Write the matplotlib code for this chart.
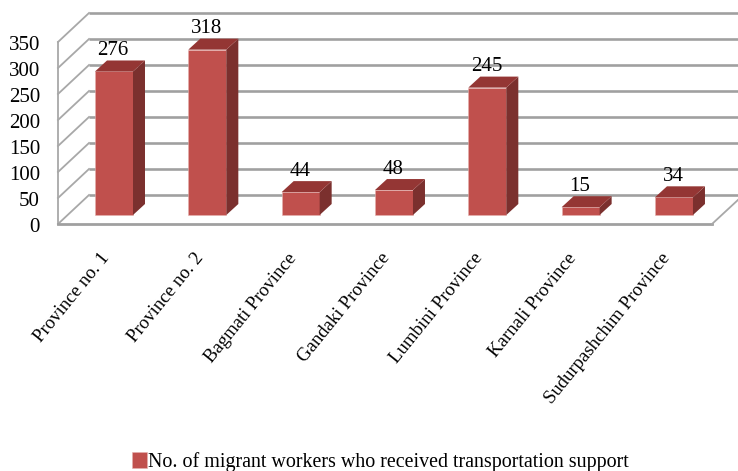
import matplotlib
matplotlib.use('Agg')
import matplotlib.pyplot as plt
from matplotlib.patches import Polygon
import numpy as np

plt.rcParams['font.family'] = ['Liberation Serif', 'DejaVu Serif']

provinces = ['Province no. 1', 'Province no. 2', 'Bagmati Province', 'Gandaki Province',
             'Lumbini Province', 'Karnali Province', 'Sudurpashchim Province']
workers = [276, 318, 44, 48, 245, 15, 34]
yticks = [0, 50, 100, 150, 200, 250, 300, 350]
series_name = 'No. of migrant workers who received transportation support'

W, H = 738, 471
# pixel scale of the picture
x0_px, xstep_px = 114.0, 93.33
y0_px, ystep_px = 215.0, 0.52

fig = plt.figure(figsize=(W / 100, H / 100), dpi=100)
ax = fig.add_axes([0, 0, 1, 1])
ax.set_xlim((0 - x0_px) / xstep_px, (W - x0_px) / xstep_px)
ax.set_ylim((y0_px - H) / ystep_px, y0_px / ystep_px)
ax.axis('off')

def dx(px):
    return px / xstep_px

def dy(px):
    return px / ystep_px

grid_col = '#a0a0a0'
# walls: front edge of the box sits below/left of the bars, back wall up and right
wall_left = -dx(56)
wall_back = wall_left + dx(31)
floor_right = wall_left + dx(654)
front_base = -dy(9)
back_base = front_base + dy(29)

for t in yticks:
    yb = back_base + t
    yf = front_base + t
    ax.plot([wall_back, ax.get_xlim()[1]], [yb, yb], color=grid_col, lw=1.9, zorder=1,
            solid_capstyle='butt')
    ax.plot([wall_left, wall_back], [yf, yb], color='#a8a8a8', lw=1.3, zorder=1)
    ax.text(wall_left - dx(18), yf - dy(3.5), str(t), ha='right', va='center', fontsize=15,
            color='black')

ax.plot([wall_left, wall_left], [front_base, front_base + yticks[-1]], color='#a8a8a8', lw=1.3, zorder=1)
ax.plot([wall_left, floor_right], [front_base, front_base], color=grid_col, lw=2, zorder=1)
ax.plot([floor_right, floor_right + dx(27)], [front_base, front_base + dy(25)], color='#a8a8a8', lw=1.3, zorder=1)

x = np.arange(len(workers))
width = dx(38)
bars = ax.bar(x, workers, width=width, color='#c0504d', edgecolor='#e6b0ae', linewidth=0.4,
              zorder=3, label=series_name)

for xi, v in zip(x, workers):
    l = xi - width / 2
    r = xi + width / 2
    side = [(r, 0), (r + dx(12), dy(11)), (r + dx(12), v + dy(11)), (r, v)]
    top = [(l, v), (r, v), (r + dx(12), v + dy(11)), (l + dx(12), v + dy(11))]
    ax.add_patch(Polygon(side, closed=True, fc='#7b302e', ec='none', zorder=3))
    ax.add_patch(Polygon(top, closed=True, fc='#943634', ec='none', zorder=3))
    ax.text(xi - dx(1), v + dy(21), str(v), ha='center', va='center', fontsize=15, color='black', zorder=4)

for xi, name in zip(x, provinces):
    ax.text(xi - dx(14), -dy(35), name, rotation=51, rotation_mode='anchor', ha='right', va='top',
            fontsize=13.5, color='black')

ax.legend(handles=[bars], loc='lower center', bbox_to_anchor=(0.515, -0.024), frameon=False,
          fontsize=14.45, handlelength=0.75, handleheight=0.85, handletextpad=0.05, borderaxespad=0.1)

fig.savefig('out.png', dpi=100)
